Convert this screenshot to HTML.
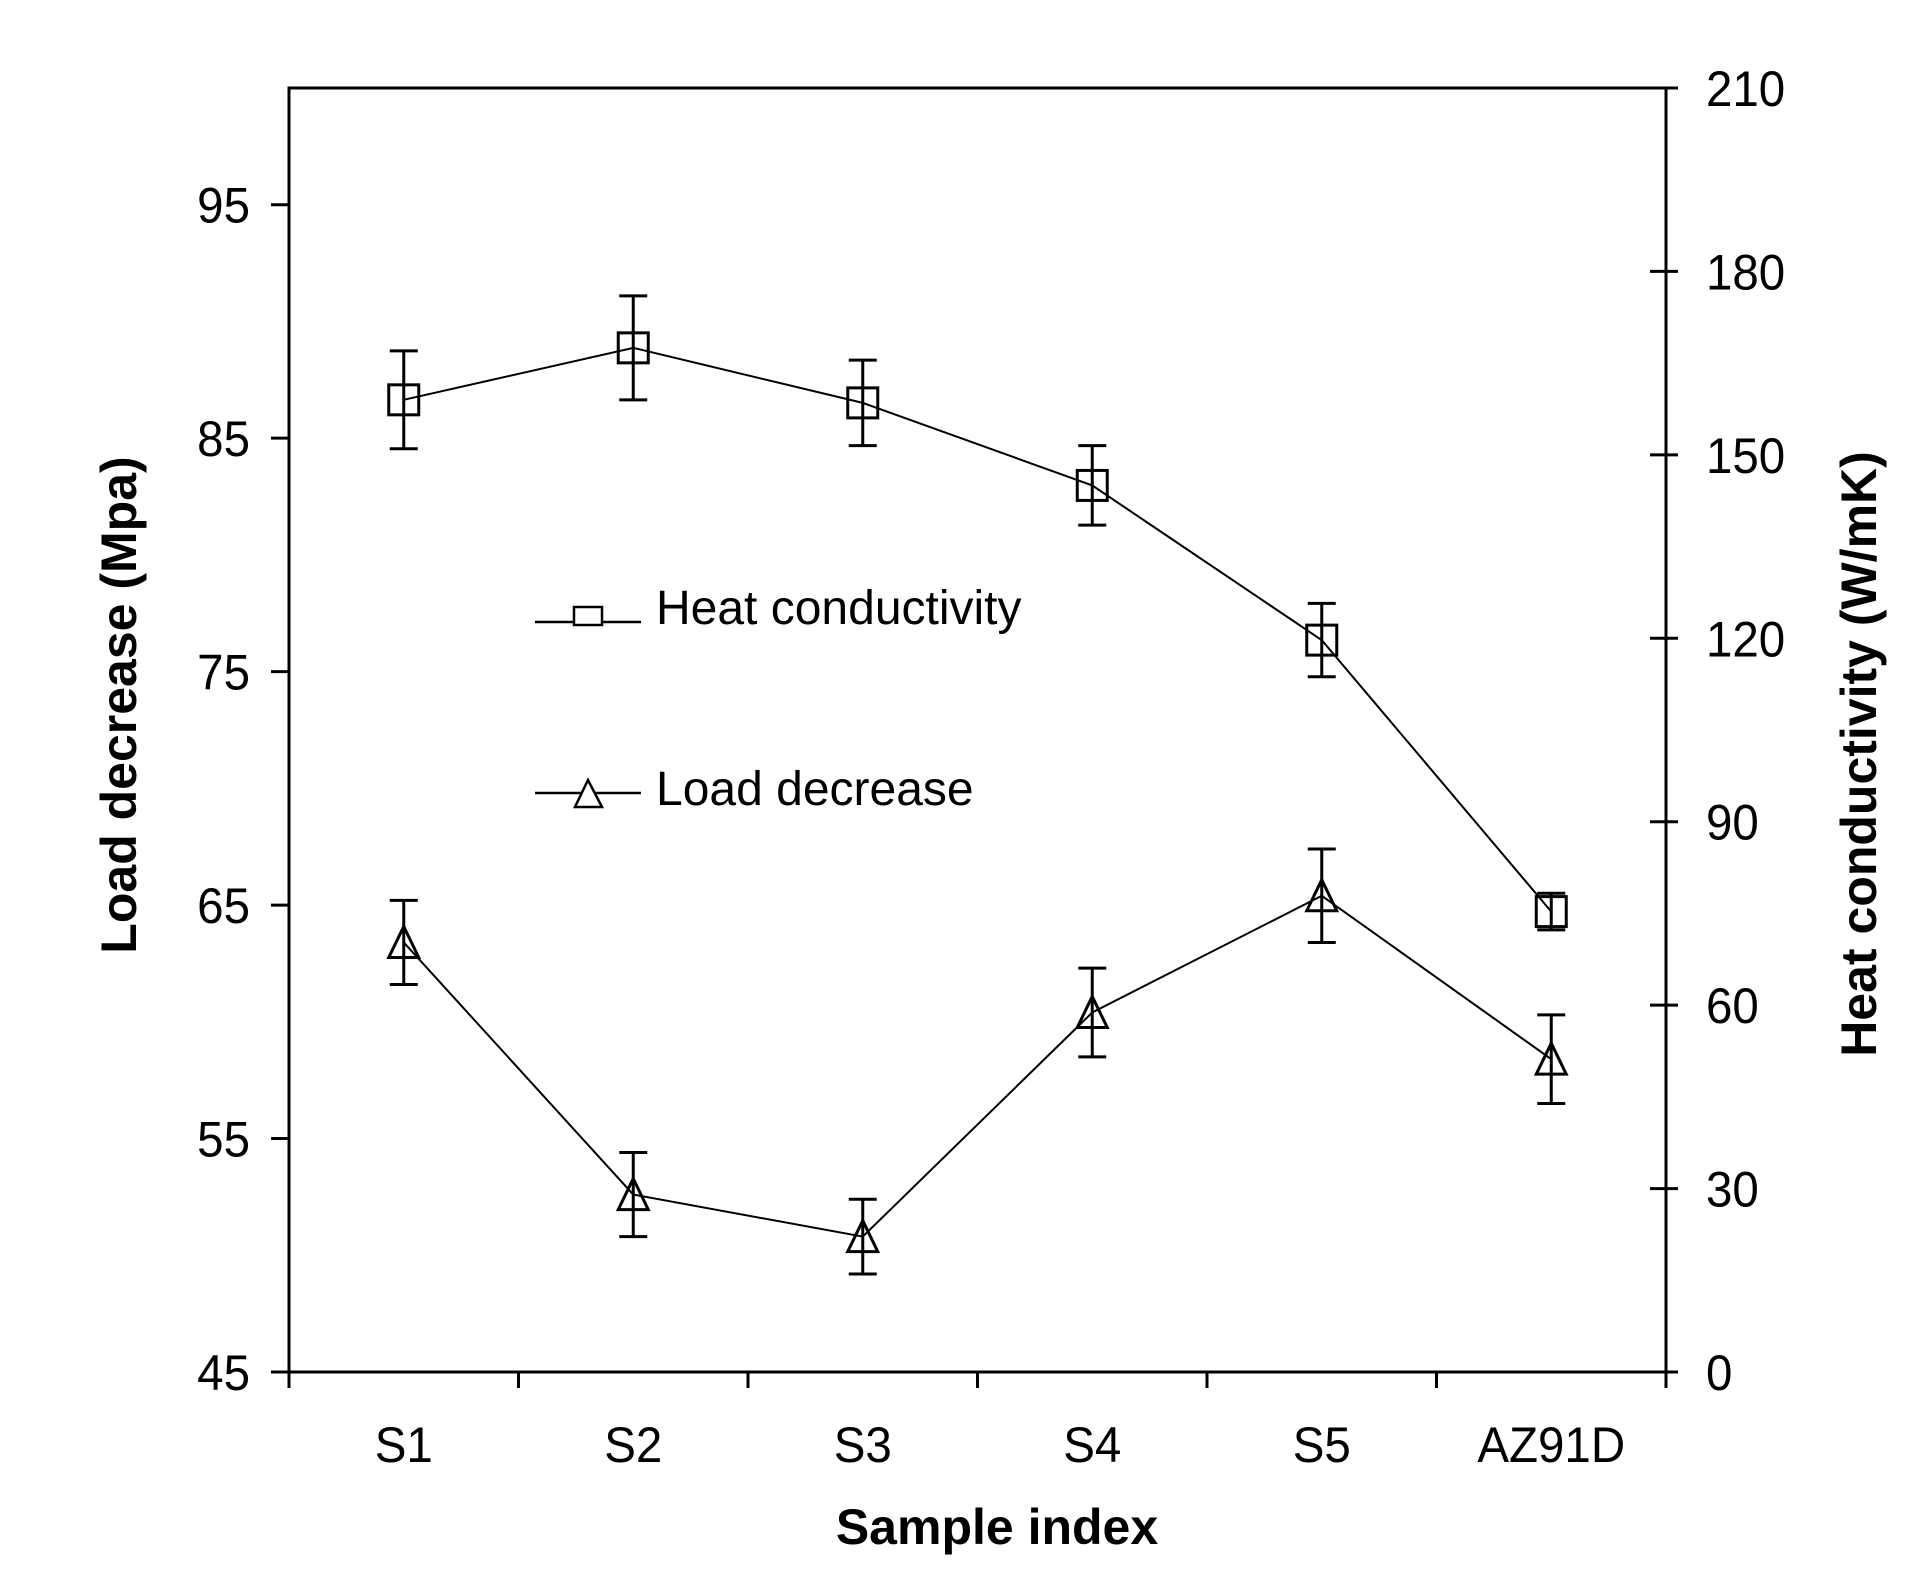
<!DOCTYPE html>
<html><head><meta charset="utf-8"><style>
html,body{margin:0;padding:0;background:#fff;}
svg{display:block;}
text{font-family:"Liberation Sans",sans-serif;fill:#000;}
</style></head><body>
<svg id="chart" width="1913" height="1589" viewBox="0 0 1913 1589" xmlns="http://www.w3.org/2000/svg">
<g id="axes"></g>
<g id="series"></g>
<g>
  <g>
    <line x1="535" y1="622" x2="641" y2="622" stroke="#000" stroke-width="2.5"/>
    <rect x="574" y="607" width="28" height="18" fill="#fff" stroke="#000" stroke-width="2.5"/>
    <text x="656" y="624" font-size="48">Heat conductivity</text>
  </g>
  <g>
    <line x1="535" y1="793" x2="641" y2="793" stroke="#000" stroke-width="2.5"/>
    <polygon points="575,807 602,807 588,780" fill="#fff" stroke="#000" stroke-width="2.5"/>
    <text x="656" y="805" font-size="48">Load decrease</text>
  </g>
</g>
<text x="997" y="1544" font-size="50" font-weight="bold" text-anchor="middle">Sample index</text>
<text x="0" y="0" font-size="50" font-weight="bold" text-anchor="middle" transform="translate(136 705) rotate(-90)">Load decrease (Mpa)</text>
<text x="0" y="0" font-size="50" font-weight="bold" text-anchor="middle" transform="translate(1876 754) rotate(-90)">Heat conductivity (W/mK)</text>
</svg>
<script>
const categories = ["S1","S2","S3","S4","S5","AZ91D"];
const heatValues = [159, 167.5, 158.5, 145, 119.7, 75.3];
const heatErrors = [8, 8.5, 7, 6.5, 6, 3];
const loadValues = [63.4, 52.6, 50.8, 60.4, 65.4, 58.4];
const loadErrors = [1.8, 1.8, 1.6, 1.9, 2.0, 1.9];
const leftTicks = [45, 55, 65, 75, 85, 95];
const rightTicks = [0, 30, 60, 90, 120, 150, 180, 210];

const L=289, R=1666, T=88, B=1372;
const NS="http://www.w3.org/2000/svg";
const yLeft = v => B - (v-45)/(100-45)*(B-T);
const yRight = v => B - v/210*(B-T);
const band = (R-L)/categories.length;
const xCat = i => L + band*(i+0.5);
function mk(tag, attrs, parent){const e=document.createElementNS(NS,tag);for(const k in attrs)e.setAttribute(k,attrs[k]);parent.appendChild(e);return e;}
const axes=document.getElementById('axes');
const series=document.getElementById('series');
const sw={stroke:"#000","stroke-width":3,fill:"none"};

let fr=mk('rect',Object.assign({x:L,y:T,width:R-L,height:B-T},sw),axes);



leftTicks.forEach(v=>{
  const y=yLeft(v);
  let t=mk('line',Object.assign({x1:L-18,x2:L,y1:y,y2:y},sw),axes);
  
  
  let tx=mk('text',{x:250,y:y+18,"font-size":50,"text-anchor":"end",transform:`translate(250 0) scale(0.95 1) translate(-250 0)`},axes);
  tx.textContent=v;
  
  
});
rightTicks.forEach(v=>{
  const y=yRight(v);
  let t=mk('line',Object.assign({x1:R-16,x2:R+12,y1:y,y2:y},sw),axes);
  
  
  let tx=mk('text',{x:1706,y:y+18,"font-size":50,transform:`translate(1706 0) scale(0.95 1) translate(-1706 0)`},axes);
  tx.textContent=v;
  
  
});
for(let i=0;i<=categories.length;i++){
  const x=L+band*i;
  let t=mk('line',Object.assign({x1:x,x2:x,y1:B,y2:B+16},sw),axes);
  
  
}
categories.forEach((c,i)=>{
  const x=xCat(i);
  let tx=mk('text',{x:x,y:1462,"font-size":50,"text-anchor":"middle",transform:`translate(${x} 0) scale(0.95 1) translate(${-x} 0)`},axes);
  tx.textContent=c;
  
  
});

function drawSeries(vals, errs, yf, marker, name){
  const pts=vals.map((v,i)=>xCat(i)+","+yf(v)).join(" ");
  let pl=mk('polyline',{points:pts,stroke:"#000","stroke-width":2,fill:"none"},series);
  
  
  vals.forEach((v,i)=>{
    const x=xCat(i), y=yf(v), yt=yf(v+errs[i]), yb=yf(v-errs[i]);
    let eb=mk('path',{d:`M${x},${yt}V${yb}M${x-14},${yt}H${x+14}M${x-14},${yb}H${x+14}`,stroke:"#000","stroke-width":3,fill:"none"},series);
    
    
    let m;
    if(marker==='square'){
      m=mk('rect',{x:x-15,y:y-15,width:30,height:30,fill:"none",stroke:"#000","stroke-width":3},series);
    } else {
      m=mk('polygon',{points:`${x-15},${y+15} ${x+15},${y+15} ${x},${y-16}`,fill:"none",stroke:"#000","stroke-width":3},series);
    }
    
    
  });
}
drawSeries(heatValues,heatErrors,yRight,'square','heat-conductivity');
drawSeries(loadValues,loadErrors,yLeft,'triangle','load-decrease');
</script>
</body></html>
